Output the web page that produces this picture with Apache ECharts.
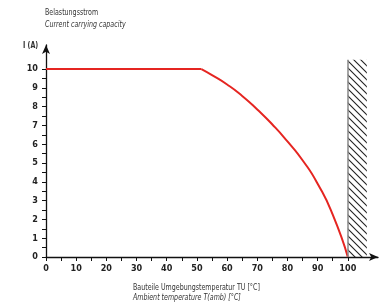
<!DOCTYPE html>
<html>
<head>
<meta charset="utf-8">
<script src="https://cdn.jsdelivr.net/npm/echarts@6/dist/echarts.min.js"></script>
<style>
  html, body { margin: 0; padding: 0; background: #fff; }
  #chart { width: 382px; height: 305px; }
</style>
</head>
<body>
<div id="chart"></div>
<script>
  // derating curve: flat part, then the falling part
  const flatTemp = [0, 51.5]
  const flatCurrent = [10, 10]
  const dropTemp = [51.5, 55, 60, 65, 70, 75, 80, 85, 90, 95, 100]
  const dropCurrent = [10, 9.68, 9.18, 8.57, 7.85, 7.05, 6.15, 5.15, 3.9, 2.25, 0]
  const xLabels = [0, 10, 20, 30, 40, 50, 60, 70, 80, 90, 100]
  const xTicks = [0, 5, 10, 15, 20, 25, 30, 35, 40, 45, 50, 55, 60, 65, 70, 75, 80, 85, 90, 95, 100]
  const yLabels = [0, 1, 2, 3, 4, 5, 6, 7, 8, 9, 10]
  const yTicks = [0, 0.5, 1, 1.5, 2, 2.5, 3, 3.5, 4, 4.5, 5, 5.5, 6, 6.5, 7, 7.5, 8, 8.5, 9, 9.5, 10]
  const hatchX = [100, 106.3]
  const hatchY = [0, 10.5]

  const font = "'Liberation Sans Narrow', 'DejaVu Sans Condensed', sans-serif"
  const squeeze = 0.78
  const red = '#e52521'

  // diagonal hatch tile
  function hatchTile() {
    const c = document.createElement('canvas')
    c.width = 7
    c.height = 7
    const ctx = c.getContext('2d')
    ctx.strokeStyle = '#222'
    ctx.lineWidth = 1.1
    ctx.beginPath()
    ctx.moveTo(-1, -1); ctx.lineTo(8, 8)
    ctx.moveTo(-1, 6); ctx.lineTo(1, 8)
    ctx.moveTo(6, -1); ctx.lineTo(8, 1)
    ctx.stroke()
    return c
  }

  function note(x, y, text, style) {
    return {
      type: 'text', x: x, y: y, scaleX: squeeze,
      style: { text: text, font: style + ' 9px ' + font, fill: '#333' }
    }
  }

  const chart = echarts.init(document.getElementById('chart'))
  const option = {
    animation: false,
    textStyle: { fontFamily: font },
    grid: { left: 46, right: 4, top: 45, bottom: 48 },
    graphic: [
      note(45, 8, 'Belastungsstrom', 'normal'),
      note(45, 20, 'Current carrying capacity', 'italic'),
      note(23, 41, 'I (A)', 'bold'),
      note(133, 283, 'Bauteile Umgebungstemperatur TU [°C]', 'normal'),
      note(133, 293, 'Ambient temperature T(amb) [°C]', 'italic')
    ],
    xAxis: {
      type: 'value',
      min: 0,
      max: 110,
      interval: 10,
      splitLine: { show: false },
      axisLine: { lineStyle: { color: '#111', width: 1.3 }, symbol: ['none', 'arrow'], symbolSize: [6, 9] },
      axisTick: { customValues: xTicks, length: 4, lineStyle: { color: '#111' } },
      axisLabel: { customValues: xLabels, color: '#222', fontSize: 9, fontWeight: 'bold', margin: 7 }
    },
    yAxis: {
      type: 'value',
      min: 0,
      max: 11.28,
      interval: 1,
      splitLine: { show: false },
      axisLine: { show: true, lineStyle: { color: '#111', width: 1.3 }, symbol: ['none', 'arrow'], symbolSize: [6, 9] },
      axisTick: { show: true, customValues: yTicks, length: 4, lineStyle: { color: '#111' } },
      axisLabel: { customValues: yLabels, color: '#222', fontSize: 9, fontWeight: 'bold', margin: 8 }
    },
    series: [
      {
        type: 'line',
        data: flatTemp.map((t, i) => [t, flatCurrent[i]]),
        symbol: 'none',
        lineStyle: { color: red, width: 2 }
      },
      {
        type: 'line',
        data: dropTemp.map((t, i) => [t, dropCurrent[i]]),
        smooth: 0.6,
        symbol: 'none',
        lineStyle: { color: red, width: 2 },
        markArea: {
          silent: true,
          itemStyle: { color: { image: hatchTile(), repeat: 'repeat' } },
          data: [[{ coord: [hatchX[0], hatchY[0]] }, { coord: [hatchX[1], hatchY[1]] }]]
        },
        markLine: {
          silent: true,
          symbol: 'none',
          label: { show: false },
          lineStyle: { color: '#888', width: 1.5, type: 'solid' },
          data: [[{ coord: [hatchX[0], hatchY[0]] }, { coord: [hatchX[0], hatchY[1]] }]]
        }
      }
    ]
  }
  chart.setOption(option)
</script>
</body>
</html>
